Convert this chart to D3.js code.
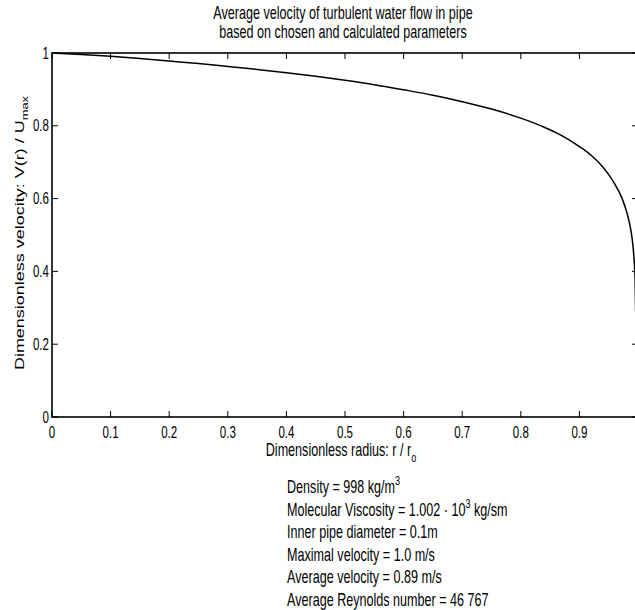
<!DOCTYPE html>
<html><head><meta charset="utf-8">
<script src="https://cdn.jsdelivr.net/npm/d3@7"></script>
<style>body{margin:0;background:#fff}svg{display:block}text{font-family:"Liberation Sans",Arial,sans-serif;fill:#000}</style>
</head><body>
<script>
// Data
const radius = [0, 0.05, 0.1, 0.15, 0.2, 0.25, 0.3, 0.35, 0.4, 0.45, 0.5, 0.55, 0.6, 0.65, 0.7, 0.75, 0.8, 0.84, 0.87, 0.9, 0.92, 0.94, 0.95, 0.96, 0.97, 0.975, 0.98, 0.985, 0.99, 0.993, 0.995, 0.996];
const velocity = [1.0, 0.996, 0.991, 0.985, 0.978, 0.971, 0.963, 0.955, 0.946, 0.936, 0.925, 0.913, 0.899, 0.884, 0.866, 0.846, 0.821, 0.796, 0.773, 0.743, 0.719, 0.687, 0.666, 0.641, 0.611, 0.591, 0.567, 0.536, 0.49, 0.44, 0.38, 0.29];
const xTickValues = [0, 0.1, 0.2, 0.3, 0.4, 0.5, 0.6, 0.7, 0.8, 0.9, 1];
const xTickLabels = ["0", "0.1", "0.2", "0.3", "0.4", "0.5", "0.6", "0.7", "0.8", "0.9", "1"];
const yTickValues = [0, 0.2, 0.4, 0.6, 0.8, 1];
const yTickLabels = ["0", "0.2", "0.4", "0.6", "0.8", "1"];
const titleLines = ["Average velocity of turbulent water flow in pipe", "based on chosen and calculated parameters"];
const infoLines = [
  [{t: "Density = 998 kg/m"}, {t: "3", sup: true}],
  [{t: "Molecular Viscosity = 1.002 \u00b7 10"}, {t: "3", sup: true}, {t: " kg/sm"}],
  [{t: "Inner pipe diameter = 0.1m"}],
  [{t: "Maximal velocity = 1.0 m/s"}],
  [{t: "Average velocity = 0.89 m/s"}],
  [{t: "Average Reynolds number = 46 767"}]
];

const W = 635, H = 610;
const SX = 0.7;   // horizontal squeeze of the lettering
const FS_TICK = 16.5, FS_LABEL = 18;
const svg = d3.select("body").append("svg").attr("width", W).attr("height", H);

const L = 52, R = 638, T = 53, B = 417;
const x = d3.scaleLinear().domain([0, 1]).range([L, R]);
const y = d3.scaleLinear().domain([0, 1]).range([B, T]);

function richText(px, py, anchor, fs, parts, rotate) {
  const g = svg.append("g").attr("transform", `translate(${px},${py}) scale(${SX},1)` + (rotate ? " rotate(-90)" : ""));
  const t = g.append("text").attr("text-anchor", anchor).style("font-size", fs + "px");
  let shift = 0;
  parts.forEach(p => {
    const target = p.sup ? -0.45 * fs : p.sub ? 0.35 * fs : 0;
    t.append("tspan").attr("dy", target - shift).style("font-size", (p.sup || p.sub) ? (fs * 0.72) + "px" : fs + "px").text(p.t);
    shift = target;
  });
  return t;
}

// axes box + ticks
const tk = 6;
const gAx = svg.append("g").attr("stroke", "#000").attr("stroke-width", 1.6).attr("fill", "none");
gAx.append("rect").attr("x", L).attr("y", T).attr("width", R - L).attr("height", B - T);
xTickValues.forEach(v => {
  gAx.append("line").attr("x1", x(v)).attr("x2", x(v)).attr("y1", B).attr("y2", B - tk).attr("stroke-width", 1);
  gAx.append("line").attr("x1", x(v)).attr("x2", x(v)).attr("y1", T).attr("y2", T + tk).attr("stroke-width", 1);
});
yTickValues.forEach(v => {
  gAx.append("line").attr("x1", L).attr("x2", L + tk).attr("y1", y(v)).attr("y2", y(v)).attr("stroke-width", 1);
  gAx.append("line").attr("x1", R).attr("x2", R - tk).attr("y1", y(v)).attr("y2", y(v)).attr("stroke-width", 1);
});

// tick labels
xTickValues.forEach((v, i) => {
  if (x(v) > W - 4) return;
  richText(x(v), 438, "middle", FS_TICK, [{t: xTickLabels[i]}]);
});
yTickValues.forEach((v, i) => {
  richText(49, y(v) + 5.5, "end", FS_TICK, [{t: yTickLabels[i]}]);
});

// curve
const line = d3.line().x((d, i) => x(radius[i])).y(d => y(d)).curve(d3.curveMonotoneX);
svg.append("path").datum(velocity).attr("d", line).attr("fill", "none").attr("stroke", "#000").attr("stroke-width", 1.5);

// title
titleLines.forEach((s, i) => richText(343, 19 + i * 19, "middle", FS_LABEL, [{t: s}]));

// axis labels
richText(341, 456, "middle", FS_LABEL, [{t: "Dimensionless radius: r / r"}, {t: "o", sub: true}]);
richText(23.5, 233, "middle", FS_LABEL, [{t: "Dimensionless velocity: V(r) / U"}, {t: "max", sub: true}], true);

// info block
infoLines.forEach((parts, i) => richText(287, 493 + i * 22.6, "start", FS_LABEL, parts));
</script>
</body></html>
